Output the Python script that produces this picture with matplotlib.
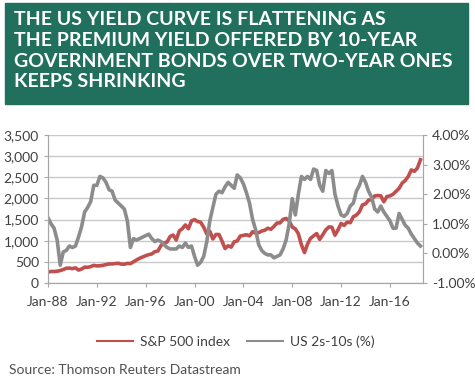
import numpy as np
import pandas as pd
import matplotlib.pyplot as plt
import matplotlib.dates as mdates
from matplotlib.patches import Rectangle

# quarterly readings, Q1 1988 .. Q3 2018
sp500 = [258, 273, 272, 278, 295, 318, 349, 353, 340, 358, 306, 330,
         375, 371, 388, 417, 404, 408, 418, 436, 452, 451, 459, 466,
         446, 444, 463, 459, 501, 545, 584, 616, 645, 671, 687, 741,
         757, 885, 947, 970, 1102, 1134, 1017, 1229, 1286, 1373, 1283, 1469,
         1499, 1455, 1437, 1320, 1160, 1224, 1041, 1148, 1147, 990, 815, 880,
         848, 975, 996, 1112, 1126, 1141, 1115, 1212, 1181, 1191, 1229, 1248,
         1295, 1270, 1336, 1418, 1421, 1503, 1527, 1468, 1323, 1280, 1166, 903,
         720, 919, 1057, 1115, 1169, 1031, 1141, 1258, 1326, 1321, 1131, 1258,
         1408, 1362, 1441, 1426, 1569, 1606, 1682, 1848, 1872, 1960, 1972, 2059,
         2068, 2063, 1920, 2044, 2060, 2099, 2168, 2239, 2363, 2423, 2519, 2674,
         2641, 2718, 2914]
spread = [1.20, 1.00, 0.85, 0.45, -0.40, 0.05, 0.10, 0.25, 0.20, 0.25, 0.55, 0.90,
          1.40, 1.55, 1.75, 2.30, 2.30, 2.60, 2.55, 2.40, 2.15, 2.10, 1.80, 1.70,
          1.60, 1.50, 1.10, 0.20, 0.50, 0.45, 0.50, 0.55, 0.60, 0.65, 0.50, 0.40,
          0.45, 0.40, 0.30, 0.20, 0.15, 0.15, 0.15, 0.25, 0.20, 0.35, 0.20, 0.25,
          -0.10, -0.40, -0.30, -0.10, 0.40, 1.10, 1.55, 2.00, 2.10, 2.05, 2.25, 2.40,
          2.30, 2.20, 2.65, 2.55, 2.35, 2.05, 1.70, 1.15, 0.80, 0.30, 0.10, 0.00,
          -0.05, -0.05, -0.15, -0.10, -0.05, 0.15, 0.45, 1.00, 1.85, 1.30, 2.00, 2.60,
          2.50, 2.60, 2.50, 2.85, 2.80, 2.30, 2.10, 2.80, 2.70, 2.80, 2.00, 1.60,
          1.30, 1.25, 1.35, 1.60, 1.70, 2.10, 2.30, 2.60, 2.40, 2.10, 1.90, 1.50,
          1.40, 1.60, 1.40, 1.25, 1.10, 0.85, 0.85, 1.35, 1.15, 0.95, 0.85, 0.65,
          0.50, 0.35, 0.25]
dates = pd.date_range('1988-01-01', periods=len(sp500), freq='QS')

green = '#21705e'
red = '#c0504d'
grey = '#8c8c8c'
text_c = '#404040'

plt.rcParams['font.family'] = ['Lato', 'DejaVu Sans']

fig = plt.figure(figsize=(4.75, 3.86), dpi=100)
fig.add_artist(Rectangle((5 / 475, 1 - 104 / 386), 463 / 475, 101 / 386,
                         transform=fig.transFigure, color=green, zorder=0))
title = ('THE US YIELD CURVE IS FLATTENING AS\n'
         'THE PREMIUM YIELD OFFERED BY 10-YEAR\n'
         'GOVERNMENT BONDS OVER TWO-YEAR ONES\n'
         'KEEPS SHRINKING')
fig.text(14 / 475, 1 - 11 / 386, title, color='white', fontsize=14,
         fontweight='bold', va='top', ha='left', linespacing=1.27)

ax = fig.add_axes([48 / 475, 1 - 283 / 386, 375 / 475, 148 / 386])
ax.plot(dates, sp500, color=red, lw=2.6, label='S&P 500 index')
ax.set_ylim(0, 3500)
ax.set_yticks(np.arange(0, 3501, 500))
ax.set_yticklabels([f'{v:,}' for v in range(0, 3501, 500)])
ax.grid(axis='y', color='#c8c8c8', lw=1)
ax.set_axisbelow(True)
ax.set_xlim(pd.Timestamp('1988-01-01'), pd.Timestamp('2018-09-15'))
ax.xaxis.set_major_locator(mdates.YearLocator(4, month=1, day=1))
ax.xaxis.set_major_formatter(mdates.DateFormatter('%b-%y'))
ax.spines['top'].set_visible(False)
for s in ['left', 'bottom', 'right']:
    ax.spines[s].set_color('#a6a6a6')
ax.tick_params(colors='#a6a6a6', labelcolor=text_c, labelsize=10, length=3)
ax.tick_params(axis='x', pad=6)

ax2 = ax.twinx()
ax2.plot(dates, spread, color=grey, lw=2.6, label='US 2s-10s (%)')
ax2.set_ylim(-1, 4)
ax2.set_yticks(np.arange(-1, 4.01, 1))
ax2.set_yticklabels([f'{v:.2f}%' for v in np.arange(-1, 4.01, 1)])
ax2.spines['top'].set_visible(False)
for s in ['left', 'bottom', 'right']:
    ax2.spines[s].set_color('#a6a6a6')
ax2.tick_params(colors='#a6a6a6', labelcolor=text_c, labelsize=10, length=3)

h1, l1 = ax.get_legend_handles_labels()
h2, l2 = ax2.get_legend_handles_labels()
fig.legend(h1 + h2, l1 + l2, loc='center', bbox_to_anchor=(236 / 475, 1 - 342 / 386),
           ncol=2, frameon=False, fontsize=10, handlelength=2.6, columnspacing=1.2,
           labelcolor=text_c, handletextpad=0.5)
for line in fig.legends[0].get_lines():
    line.set_linewidth(1.5)

fig.text(9 / 475, 1 - 370 / 386, 'Source: Thomson Reuters Datastream', fontsize=10,
         color='#505050', va='center', ha='left')

fig.savefig('out.png', dpi=100)
